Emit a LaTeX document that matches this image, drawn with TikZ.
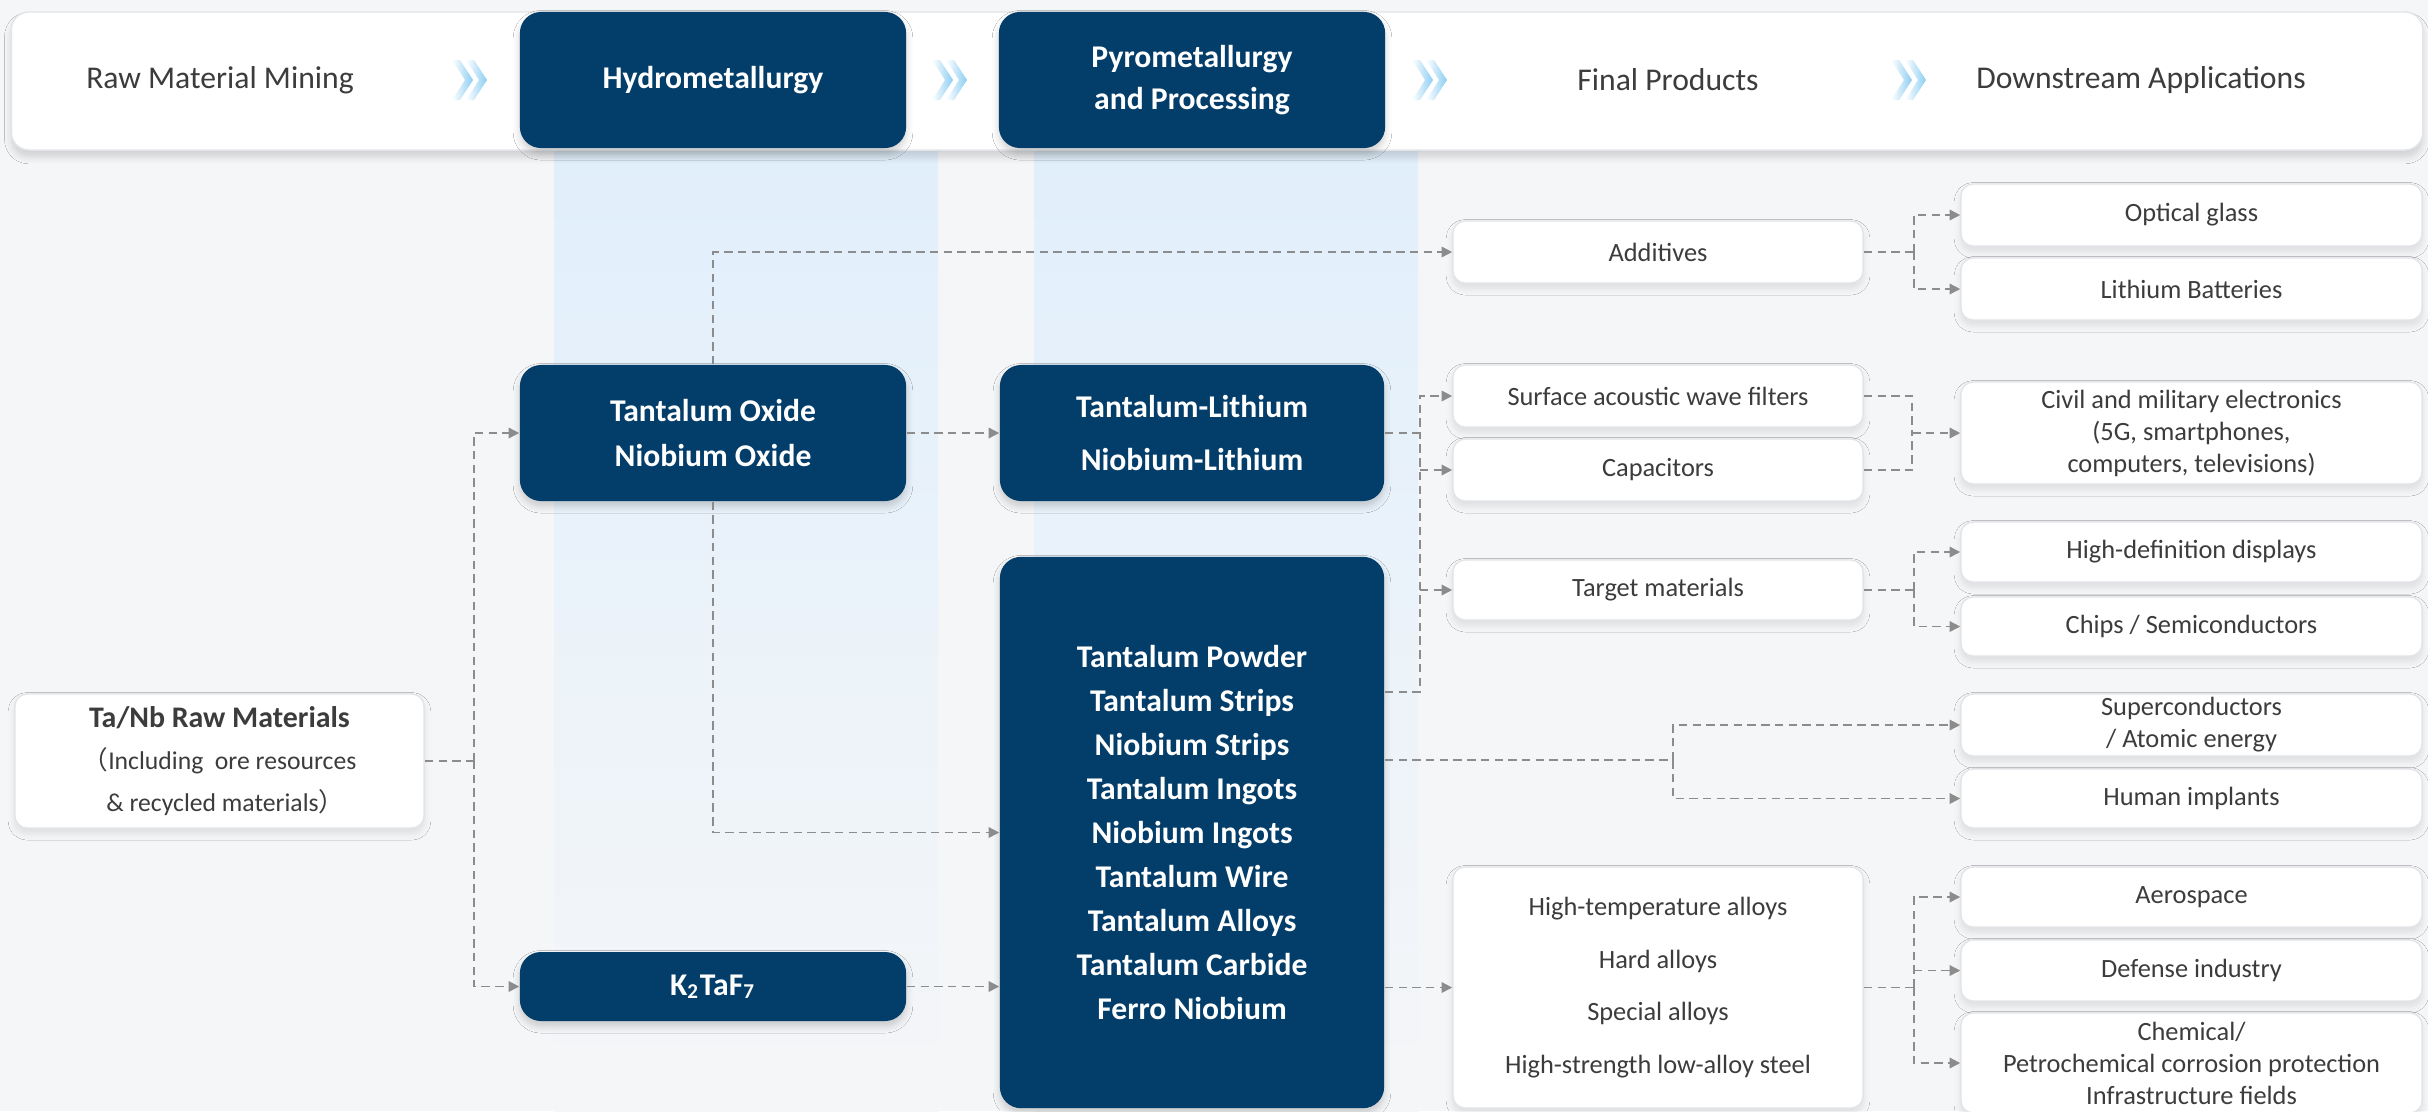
\documentclass[tikz,border=0pt]{standalone}
\usepackage{fontspec}
\setmainfont{Carlito}
\newfontfamily\cjkfont{Noto Sans CJK SC}
\usetikzlibrary{arrows.meta,calc,shadows.blur}
\definecolor{tnNavy}{RGB}{3,61,105}
\definecolor{tnGray}{RGB}{140,140,140}
\definecolor{tnText}{RGB}{60,60,60}
\definecolor{tnBack}{RGB}{245,246,248}
\definecolor{tnBand}{RGB}{225,239,251}
\definecolor{tnEdge}{RGB}{226,228,231}
\definecolor{tnChev}{RGB}{140,205,243}

\begin{document}
\begin{tikzpicture}[x=0.01cm, y=-0.01cm,
  darkbox/.style={rectangle, rounded corners=6pt, fill=tnNavy, text=white, inner sep=0pt,
    align=center, minimum width=3.86cm, font=\bfseries\fontsize{9}{12.5}\selectfont,
    blur shadow={shadow xshift=0pt, shadow yshift=-1.5pt, shadow opacity=18, shadow blur steps=6}},
  litebox/.style={rectangle, rounded corners=3.5pt, fill=white, draw=tnEdge, line width=0.4pt,
    text=tnText, inner sep=0pt, align=center, minimum width=4.1cm,
    font=\fontsize{7.5}{9.1}\selectfont,
    blur shadow={shadow xshift=0pt, shadow yshift=-1.5pt, shadow opacity=10, shadow blur steps=6}},
  appbox/.style={litebox, minimum width=4.61cm},
  hdlabel/.style={text=tnText, font=\fontsize{9}{12}\selectfont},
  dashline/.style={tnGray, line width=0.45pt, dash pattern=on 2.4pt off 1.5pt},
  link/.style={dashline, -{Triangle[length=3pt, width=3pt]}}
]
  \useasboundingbox (0,0) rectangle (2428,1111);
  \fill[tnBack] (0,0) rectangle (2428,1111);

  % Column bands
  \shade[top color=tnBand, middle color=tnBand!80!tnBack, bottom color=tnBack] (554,150) rectangle (938,1111);
  \shade[top color=tnBand, middle color=tnBand!80!tnBack, bottom color=tnBack] (1034,150) rectangle (1418,1111);

  % Header
  \node[rectangle, rounded corners=5pt, fill=white, draw=tnEdge, minimum width=24.1cm, minimum height=1.38cm,
    blur shadow={shadow xshift=0pt, shadow yshift=-2pt, shadow opacity=15, shadow blur steps=6}] (bar) at (1217,81) {};
  \node[hdlabel] (mine) at (220,80) {Raw Material Mining};
  \node[darkbox, minimum height=1.36cm] (hydro) at (713,80) {Hydrometallurgy};
  \node[darkbox, minimum height=1.36cm, font=\bfseries\fontsize{9}{12}\selectfont] (pyro) at (1192,80) {Pyrometallurgy\\and Processing};
  \node[hdlabel] (final) at (1668,80) {Final Products};
  \node[hdlabel] (down) at (2141,80) {Downstream Applications};
  \foreach \cx in {474,954,1434,1913} {
    \foreach \dx in {-14,0} {
      \shade[left color=white, right color=tnChev]
        ($(\cx,60)+(\dx-8,0)$) -- ($(\cx,60)+(\dx,0)$) -- ($(\cx,80)+(\dx+13,0)$)
        -- ($(\cx,100)+(\dx,0)$) -- ($(\cx,100)+(\dx-8,0)$) -- ($(\cx,80)+(\dx+5,0)$) -- cycle;
    }
  }

  % Raw materials and hydrometallurgy
  \node[litebox, minimum width=4.09cm, minimum height=1.34cm, font=\fontsize{7.3}{12}\selectfont] (raw) at (219.5,761)
    {{\bfseries\fontsize{8.5}{12}\selectfont Ta/Nb Raw Materials}\\{\cjkfont （}Including\ \ ore resources\\\ \ \& recycled materials{\cjkfont ）}};
  \node[darkbox, minimum height=1.36cm, font=\bfseries\fontsize{9}{12.8}\selectfont] (tox) at (713,433) {Tantalum Oxide\\Niobium Oxide};
  \node[darkbox, minimum height=0.69cm] (k2) at (713,986.5) {K\textsubscript{2}TaF\textsubscript{7}};

  % Pyrometallurgy and processing
  \node[darkbox, minimum width=3.84cm, minimum height=1.36cm, font=\bfseries\fontsize{9}{14.8}\selectfont] (tli) at (1192,433) {Tantalum-Lithium\\Niobium-Lithium};
  \node[darkbox, minimum width=3.84cm, minimum height=5.51cm] (big) at (1192,832.5)
    {Tantalum Powder\\Tantalum Strips\\Niobium Strips\\Tantalum Ingots\\Niobium Ingots\\Tantalum Wire\\Tantalum Alloys\\Tantalum Carbide\\Ferro Niobium};

  % Final products
  \node[litebox, minimum height=0.62cm] (add) at (1658,252) {Additives};
  \node[litebox, minimum height=0.62cm] (saw) at (1658,396) {Surface acoustic wave filters};
  \node[litebox, minimum height=0.62cm] (cap) at (1658,470) {Capacitors};
  \node[litebox, minimum height=0.60cm] (tgt) at (1658,590) {Target materials};
  \node[litebox, minimum height=2.41cm, font=\fontsize{7.5}{15}\selectfont] (all) at (1658,987.5)
    {High-temperature alloys\\Hard alloys\\Special alloys\\High-strength low-alloy steel};

  % Downstream applications
  \node[appbox, minimum height=0.62cm] (opt) at (2191.5,215) {Optical glass};
  \node[appbox, minimum height=0.62cm] (lib) at (2191.5,289) {Lithium Batteries};
  \node[appbox, minimum height=1.02cm] (civ) at (2191.5,433) {Civil and military electronics\\(5G, smartphones,\\computers, televisions)};
  \node[appbox, minimum height=0.60cm] (hd) at (2191.5,552) {High-definition displays};
  \node[appbox, minimum height=0.59cm] (chp) at (2191.5,626.5) {Chips / Semiconductors};
  \node[appbox, minimum height=0.62cm] (sup) at (2191.5,725) {Superconductors\\/ Atomic energy};
  \node[appbox, minimum height=0.59cm] (hum) at (2191.5,798.5) {Human implants};
  \node[appbox, minimum height=0.60cm] (aer) at (2191.5,897) {Aerospace};
  \node[appbox, minimum height=0.61cm] (dfn) at (2191.5,970.5) {Defense industry};
  \node[appbox, minimum height=1.00cm] (chm) at (2191.5,1063) {Chemical/\\Petrochemical corrosion protection\\Infrastructure fields};

  % Junctions
  \coordinate (jR) at ($(raw.east)+(49,0)$);
  \coordinate (jT) at ($(tli.east)+(35,0)$);
  \coordinate (tapA) at ($(big.north east)+(0,136)$);
  \coordinate (tapB) at ($(big.north east)+(0,204)$);
  \coordinate (jS) at ($(tapB)+(288,0)$);
  \coordinate (jA) at ($(add.east)+(50,0)$);
  \coordinate (jC) at ($(civ.west)+(-48,0)$);
  \coordinate (jG) at ($(tgt.east)+(50,0)$);
  \coordinate (jL) at ($(all.east)+(50,0)$);

  % Connectors
  \draw[dashline] (raw.east) -- (jR);
  \draw[link] (jR) |- (tox.west);
  \draw[link] (jR) |- (k2.west);
  \draw[link] (tox.east) -- (tli.west);
  \draw[link] (tox.north) |- (add.west);
  \draw[link] (tox.south) |- (big.west);
  \draw[link] (k2.east) -- (k2.east -| big.west);
  \draw[link] (tli.east) -- (jT) |- (saw.west);
  \draw[dashline] (tapA) -| (jT);
  \draw[link] (cap.west -| jT) -- (cap.west);
  \draw[link] (tgt.west -| jT) -- (tgt.west);
  \draw[dashline] (tapB) -- (jS);
  \draw[link] (jS) |- (sup.west);
  \draw[link] (jS) |- (hum.west);
  \draw[link] (all.west -| big.east) -- (all.west);
  \draw[dashline] (add.east) -- (jA);
  \draw[link] (jA) |- (opt.west);
  \draw[link] (jA) |- (lib.west);
  \draw[dashline] (saw.east) -| (jC);
  \draw[dashline] (cap.east) -| (jC);
  \draw[link] (jC) -- (civ.west);
  \draw[dashline] (tgt.east) -- (jG);
  \draw[link] (jG) |- (hd.west);
  \draw[link] (jG) |- (chp.west);
  \draw[dashline] (all.east) -- (jL);
  \draw[link] (jL) |- (aer.west);
  \draw[link] (dfn.west -| jL) -- (dfn.west);
  \draw[link] (jL) |- (chm.west);
\end{tikzpicture}
\end{document}
